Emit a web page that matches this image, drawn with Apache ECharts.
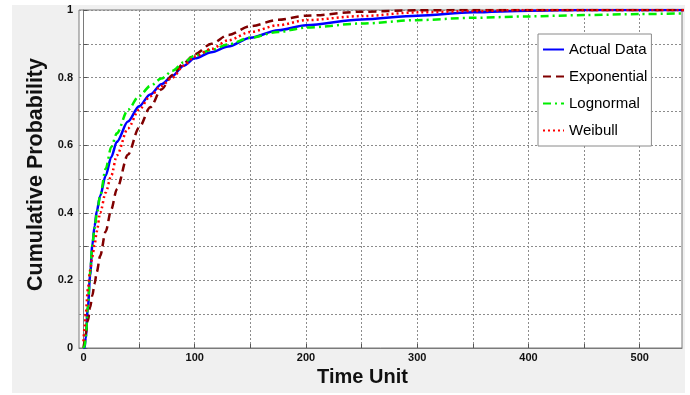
<!DOCTYPE html>
<html>
<head>
<meta charset="utf-8">
<script src="https://cdn.jsdelivr.net/npm/echarts@6/dist/echarts.min.js"></script>
<style>
  html, body { margin: 0; padding: 0; background: #ffffff; }
  #chart { width: 690px; height: 395px; }
</style>
</head>
<body>
<div id="chart"></div>
<script>
// Time points shared by every curve
const timeUnits = [0, 1, 2, 4, 6, 8, 10, 12, 15, 20, 25, 30, 40, 50, 60, 70, 80, 90, 100, 115, 130, 150, 175, 200, 250, 300, 350, 400, 450, 500, 540];

// Cumulative probability of each curve at those time points
const actualData  = [0, 0, 0.03, 0.12, 0.215, 0.305, 0.36, 0.405, 0.45, 0.51, 0.565, 0.61, 0.67, 0.715, 0.75, 0.78, 0.805, 0.835, 0.857, 0.875, 0.892, 0.918, 0.94, 0.955, 0.972, 0.983, 0.993, 0.998, 1, 1, 1];
const exponential = [0, 0.02, 0.04, 0.08, 0.12, 0.155, 0.19, 0.225, 0.272, 0.345, 0.41, 0.47, 0.572, 0.652, 0.712, 0.765, 0.808, 0.842, 0.869, 0.9, 0.926, 0.952, 0.971, 0.983, 0.995, 0.999, 1, 1, 1, 1, 1];
const lognormal   = [0, 0.005, 0.03, 0.125, 0.225, 0.305, 0.355, 0.395, 0.45, 0.53, 0.595, 0.635, 0.705, 0.745, 0.775, 0.797, 0.82, 0.845, 0.865, 0.882, 0.898, 0.918, 0.935, 0.948, 0.96, 0.97, 0.977, 0.981, 0.985, 0.988, 0.99];
const weibull     = [0.02, 0.06, 0.1, 0.175, 0.23, 0.27, 0.305, 0.345, 0.4, 0.46, 0.51, 0.57, 0.65, 0.705, 0.745, 0.775, 0.8, 0.835, 0.862, 0.885, 0.91, 0.935, 0.955, 0.97, 0.982, 0.993, 0.997, 1, 1, 1, 1];

// Axis ticks
const xLabelValues = [0, 100, 200, 300, 400, 500];
const xGridValues  = [0, 50, 100, 150, 200, 250, 300, 350, 400, 450, 500];
const yLabelValues = [0, 0.2, 0.4, 0.6, 0.8, 1];

const seriesNames = ['Actual Data', 'Exponential', 'Lognormal', 'Weibull'];

const pairs = arr => timeUnits.map((t, i) => [t, arr[i]]);

const gridLine = { color: '#8c8c8c', width: 1, type: [2, 2] };
const tickFont = { fontFamily: 'Liberation Sans', fontWeight: 'bold', fontSize: 11, color: '#111' };
const titleFont = { fontFamily: 'Liberation Sans', fontWeight: 'bold', fontSize: 20, color: '#111' };

const chart = echarts.init(document.getElementById('chart'), null, { renderer: 'canvas' });

chart.setOption({
  backgroundColor: '#ffffff',
  animation: false,
  graphic: [{
    type: 'rect',
    z: -100,
    silent: true,
    shape: { x: 12, y: 5, width: 673, height: 388 },
    style: { fill: '#f0f0f0' }
  }],
  grid: {
    left: 79, top: 10, width: 603, height: 338,
    show: true,
    backgroundColor: '#ffffff',
    borderColor: '#7a7a7a',
    borderWidth: 1
  },
  legend: {
    orient: 'vertical',
    left: 538, top: 34,
    padding: [8, 4, 8, 4],
    itemWidth: 21, itemHeight: 14,
    itemGap: 12,
    // line-only keys: hide the marker drawn in the middle of each key
    itemStyle: { color: 'transparent', borderColor: 'transparent', borderWidth: 0 },
    backgroundColor: '#ffffff',
    borderColor: '#8a8a8a',
    borderWidth: 1,
    textStyle: { fontFamily: 'Liberation Sans', fontSize: 15, color: '#000' },
    data: seriesNames
  },
  xAxis: {
    type: 'value',
    min: -4, max: 538,
    name: 'Time Unit',
    nameLocation: 'middle',
    nameGap: 18,
    nameTextStyle: Object.assign({ padding: [0, 36, 0, 0], verticalAlign: 'top' }, titleFont),
    axisLine: { lineStyle: { color: '#7a7a7a', width: 1 } },
    axisTick: { show: true, inside: true, length: 4, customValues: xGridValues, lineStyle: { color: '#555' } },
    axisLabel: Object.assign({ customValues: xLabelValues, margin: 4 }, tickFont),
    splitLine: { show: true, lineStyle: gridLine }
  },
  yAxis: {
    type: 'value',
    min: 0, max: 1, interval: 0.1,
    name: 'Cumulative Probability',
    nameLocation: 'middle',
    nameGap: 28,
    nameTextStyle: Object.assign({}, titleFont, { fontSize: 21.5, padding: [0, 0, 0, 9] }),
    axisLine: { show: true, lineStyle: { color: '#7a7a7a', width: 1 } },
    axisTick: { show: true, inside: true, length: 4, lineStyle: { color: '#555' } },
    axisLabel: Object.assign({
      customValues: yLabelValues, margin: 6,
      formatter: v => String(+v.toFixed(1))
    }, tickFont),
    splitLine: { show: true, lineStyle: gridLine }
  },
  series: [
    {
      name: 'Actual Data', type: 'line', data: pairs(actualData),
      symbol: 'none', smooth: 0.3, smoothMonotone: 'x',
      lineStyle: { color: '#0000ff', width: 2.5, type: 'solid' },
      itemStyle: { color: '#0000ff' }
    },
    {
      name: 'Exponential', type: 'line', data: pairs(exponential),
      symbol: 'none', smooth: 0.3, smoothMonotone: 'x',
      lineStyle: { color: '#800000', width: 2.5, type: [8, 5] },
      itemStyle: { color: '#800000' }
    },
    {
      name: 'Lognormal', type: 'line', data: pairs(lognormal),
      symbol: 'none', smooth: 0.3, smoothMonotone: 'x',
      lineStyle: { color: '#00ee00', width: 2.5, type: [8, 4, 2, 4] },
      itemStyle: { color: '#00ee00' }
    },
    {
      name: 'Weibull', type: 'line', data: pairs(weibull),
      symbol: 'none', smooth: 0.3, smoothMonotone: 'x',
      lineStyle: { color: '#ff0000', width: 2.5, type: [2, 3] },
      itemStyle: { color: '#ff0000' }
    }
  ]
});
</script>
</body>
</html>
